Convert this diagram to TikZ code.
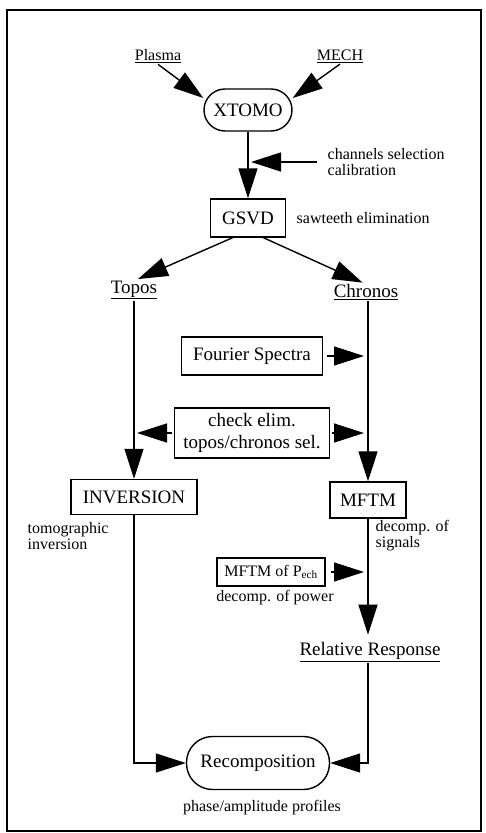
\documentclass[tikz,border=0pt]{standalone}
\usepackage{fontspec}
\setmainfont{Liberation Serif}
\usetikzlibrary{arrows.meta}

\newcommand\Grand{\fontsize{19}{22}\selectfont}
\newcommand\Petit{\fontsize{16}{16}\selectfont}
\newcommand\Titre[1]{\underline{#1}}

\begin{document}
\begin{tikzpicture}[x=1pt, y=-1pt, line width=1.4pt,
    >={Triangle[length=30pt,width=19pt]},
    boite/.style={draw, inner sep=0pt, font=\Grand},
    ovale/.style={boite, rounded corners=#1},
    titre/.style={inner sep=1pt, font=\Grand},
    note/.style={inner sep=0pt, font=\Petit, align=left}]
  \useasboundingbox (0,0) rectangle (485,833);
  \draw[line width=1.5pt] (7,10) rectangle (481,831);

  \node[titre, font=\Petit] (plasma) at (158,56) {\Titre{Plasma}};
  \node[titre, font=\Petit] (mech) at (340,56) {\Titre{MECH}};
  \node[ovale=21pt, minimum width=88pt, minimum height=42pt] (xtomo) at (248,110) {XTOMO};
  \draw[->] (plasma.south) -- (xtomo.165);
  \draw[->] (mech.south) -- (xtomo.15);

  \node[boite, minimum width=75pt, minimum height=38pt] (gsvd) at (248,218) {GSVD};
  \node[note, anchor=west] (chansel) at (327,162) {channels selection\\calibration};
  \node[note, anchor=west] (sawteeth) at (296,218) {sawteeth elimination};
  \draw[->] (xtomo) -- (gsvd);
  \draw[->, shorten <=10pt, shorten >=3pt] (chansel.west) -- (chansel.west -| xtomo.south);

  \node[titre] (topos) at (134,290) {\Titre{Topos}};
  \node[titre] (chronos) at (366,292) {\Titre{Chronos}};
  \draw[->] (gsvd.232) -- (topos.70);
  \draw[->] (gsvd.308) -- (chronos.110);

  \node[boite, minimum width=141pt, minimum height=38pt] (fourier) at (252,356) {Fourier Spectra};
  \node[boite, minimum width=155pt, minimum height=50pt, align=center] (check) at (252,433)
    {check elim.\\topos/chronos sel.};
  \node[boite, minimum width=126pt, minimum height=35pt] (inversion) at (134,497) {INVERSION};
  \node[boite, minimum width=76pt, minimum height=36pt] (mftm) at (368,500) {MFTM};
  \draw[->] (topos) -- (inversion);
  \draw[->] (chronos.south -| mftm) -- (mftm);
  \draw[->, shorten <=4pt, shorten >=4pt] (fourier.east) -- (fourier.east -| mftm.north);
  \draw[->, shorten <=2pt, shorten >=3pt] (check.west) -- (check.west -| topos.south);
  \draw[->, shorten <=2pt, shorten >=4pt] (check.east) -- (check.east -| mftm.north);

  \node[note, anchor=west] (tomo) at (27,536) {tomographic\\inversion};
  \node[note, anchor=west] (signals) at (375,536) {decomp. of\\signals};
  \node[boite, font=\Petit, minimum width=108pt, minimum height=28pt] (pech) at (271,572)
    {MFTM of P\textsubscript{ech}};
  \node[note] (power) at (275,598) {decomp. of power};
  \draw[->, shorten <=5pt, shorten >=4pt] (pech.east) -- (pech.east -| mftm.south);

  \node[titre] (relresp) at (370,652) {\Titre{Relative Response}};
  \draw[->, shorten >=6pt] (mftm.south) -- (mftm.south |- relresp.north);

  \node[ovale=26pt, minimum width=143pt, minimum height=53pt] (recomp) at (258,763) {Recomposition};
  \node[note] (profiles) at (262,808) {phase/amplitude profiles};
  \draw[->] (inversion.south) |- (recomp.west);
  \draw[->] (mftm.south |- relresp.south) |- (recomp.east);
\end{tikzpicture}
\end{document}
